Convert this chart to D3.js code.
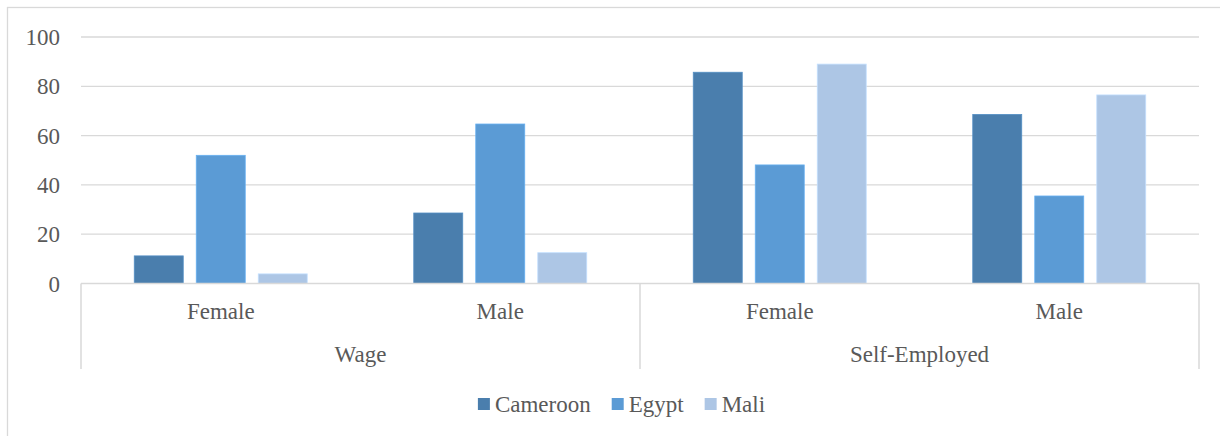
<!DOCTYPE html>
<html>
<head>
<meta charset="utf-8">
<script src="https://cdn.jsdelivr.net/npm/d3@7"></script>
<style>
  html, body { margin: 0; padding: 0; background: #fff; }
  svg { display: block; }
</style>
</head>
<body>
<svg id="chart" width="1220" height="436"></svg>
<script>
// Employment type groups and the gender categories within each
const groups = ["Wage", "Self-Employed"];
const genders = ["Female", "Male"];
const series = ["Cameroon", "Egypt", "Mali"];
const colors = ["#4a7ead", "#5b9bd5", "#adc6e5"];

// Share (%) per category: Wage-Female, Wage-Male, Self-Female, Self-Male
const cameroon = [11.2, 28.6, 85.7, 68.6];
const egypt = [52.0, 64.7, 48.1, 35.5];
const mali = [3.9, 12.5, 89.0, 76.5];
const yTicks = [0, 20, 40, 60, 80, 100];

const values = { Cameroon: cameroon, Egypt: egypt, Mali: mali };
const categories = [];
groups.forEach(g => genders.forEach(s => categories.push({ group: g, gender: s, key: g + "|" + s })));

const svg = d3.select("#chart");
const plotLeft = 81, plotRight = 1199, plotTop = 37, plotBottom = 283.5;
const fontSize = 23;
const fontFamily = "Liberation Serif";
const textColor = "#595959";

function styleText(sel) {
  return sel.attr("font-family", fontFamily).attr("font-size", fontSize).attr("fill", textColor);
}

// outer frame
svg.append("rect")
  .attr("x", 7.5).attr("y", 7.5)
  .attr("width", 1230).attr("height", 450)
  .attr("fill", "none").attr("stroke", "#d9d9d9").attr("stroke-width", 1.3);

const y = d3.scaleLinear().domain([0, 100]).range([plotBottom, plotTop]);
const x0 = d3.scaleBand().domain(categories.map(c => c.key)).range([plotLeft, plotRight]).padding(0);
const x1 = d3.scaleBand().domain(series).range([0, x0.bandwidth()])
  .paddingInner(0.21).paddingOuter(0.859);

// gridlines
svg.append("g").selectAll("line").data(yTicks.filter(t => t > 0)).join("line")
  .attr("x1", plotLeft).attr("x2", plotRight)
  .attr("y1", d => y(d)).attr("y2", d => y(d))
  .attr("stroke", "#d9d9d9").attr("stroke-width", 1.3);

// y tick labels
svg.append("g").selectAll("text").data(yTicks).join("text")
  .attr("x", 60).attr("y", d => y(d) + 8)
  .attr("text-anchor", "end")
  .call(styleText)
  .text(d => d);

// bars
const barG = svg.append("g");
categories.forEach((c, i) => {
  series.forEach((s, j) => {
    const v = values[s][i];
    barG.append("rect")
      .attr("x", x0(c.key) + x1(s))
      .attr("y", y(v))
      .attr("width", x1.bandwidth())
      .attr("height", y(0) - y(v))
      .attr("fill", colors[j])
      .attr("stroke", d3.color(colors[j]).brighter(0.35))
      .attr("stroke-width", 0.8);
  });
});

// category axis baseline
svg.append("line")
  .attr("x1", plotLeft).attr("x2", plotRight)
  .attr("y1", y(0)).attr("y2", y(0))
  .attr("stroke", "#d9d9d9").attr("stroke-width", 1.5);

// group dividers
const dividerX = [plotLeft];
groups.forEach(g => {
  const keys = categories.filter(c => c.group === g).map(c => c.key);
  dividerX.push(x0(keys[keys.length - 1]) + x0.bandwidth());
});
svg.append("g").selectAll("line").data(dividerX).join("line")
  .attr("x1", d => d).attr("x2", d => d)
  .attr("y1", y(0)).attr("y2", 369)
  .attr("stroke", "#d9d9d9").attr("stroke-width", 1.5);

// gender labels
svg.append("g").selectAll("text").data(categories).join("text")
  .attr("x", d => x0(d.key) + x0.bandwidth() / 2)
  .attr("y", 319)
  .attr("text-anchor", "middle")
  .call(styleText)
  .text(d => d.gender);

// group labels
svg.append("g").selectAll("text").data(groups).join("text")
  .attr("x", g => {
    const keys = categories.filter(c => c.group === g).map(c => c.key);
    return (x0(keys[0]) + x0(keys[keys.length - 1]) + x0.bandwidth()) / 2;
  })
  .attr("y", 362)
  .attr("text-anchor", "middle")
  .call(styleText)
  .text(g => g);

// legend
const legend = svg.append("g");
let lx = 0;
series.forEach((s, j) => {
  const item = legend.append("g").attr("transform", `translate(${lx},0)`);
  item.append("rect").attr("x", 0).attr("y", 398).attr("width", 12).attr("height", 12).attr("fill", colors[j]);
  const t = item.append("text").attr("x", 17).attr("y", 411.5)
    .call(styleText).text(s);
  lx += 17 + t.node().getComputedTextLength() + 21;
});
const legendWidth = lx - 21;
legend.attr("transform", `translate(${621.5 - legendWidth / 2},0)`);
</script>
</body>
</html>
